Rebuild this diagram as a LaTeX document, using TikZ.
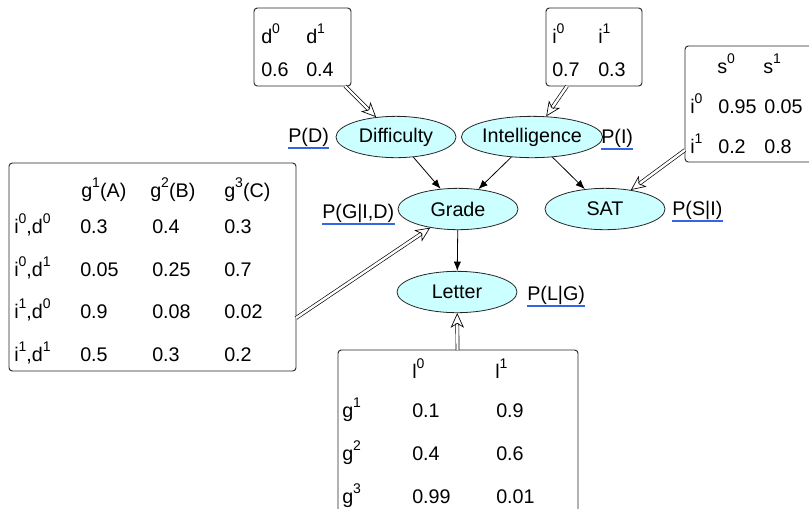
\documentclass[tikz,border=0pt]{standalone}
\usepackage{fontspec}
\setmainfont{Liberation Sans}
\usetikzlibrary{arrows.meta,positioning,shapes.geometric}
\definecolor{nodecyan}{HTML}{CCFFFF}
\definecolor{ulblue}{HTML}{3366E6}
\newcommand{\sups}[1]{\raisebox{.5em}{\fontsize{10.5}{11}\selectfont#1}}

\tikzset{
  var/.style={ellipse,draw=black!85,line width=.6pt,fill=nodecyan,
    minimum width=90pt,minimum height=31pt,inner sep=0pt},
  cpd/.style={draw=black!85,line width=.7pt,rounded corners=2.5pt},
  cell/.style={anchor=base west,inner sep=0pt},
  plabel/.style={anchor=base west,inner sep=0pt},
  uline/.style={ulblue,line width=1.3pt},
  edge/.style={line width=.6pt,-{Latex[length=7pt,width=5.5pt]}},
  link/.style={line width=.5pt,double,double distance=1.8pt,
    -{Stealth[open,length=11pt,width=10pt,inset=3pt]}},
}

\begin{document}
\begin{tikzpicture}[x=.75pt,y=-.75pt,font=\fontsize{14.8}{17}\selectfont]
\clip (0,0) rectangle (809,508);

% variables
\node[var] (diff) at (396,137) {Difficulty};
\node[var] (intel) at (532,137) {Intelligence};
\node[var] (grade) at (458,209) {Grade};
\node[var] (sat) at (605,209) {SAT};
\node[var] (letter) at (457,292) {Letter};

\draw[edge] (diff) -- (grade);
\draw[edge] (intel) -- (grade);
\draw[edge] (intel) -- (sat);
\draw[edge] (grade) -- (letter);

% factor names
\node[plabel] (pd) at (288,142) {P(D)};
\node[plabel] (pi) at (601,143) {P(I)};
\node[plabel] (pg) at (322,218) {P(G|I,D)};
\node[plabel] (ps) at (672,215) {P(S|I)};
\node[plabel] (pl) at (527,300) {P(L|G)};
\foreach \p in {pd,pi,pg,ps,pl}
  \draw[uline] ([yshift=-4.6pt]\p.base west) -- ([yshift=-4.6pt]\p.base east);

% P(D)
\draw[cpd] (254,8) rectangle (351,86);
\node[cell] (d0) at (261,43) {d\sups{0}};
\node[cell] (d1) at (306,43) {d\sups{1}};
\node[cell] (dv0) at (261,76) {0.6};
\node[cell] (dv1) at (306,76) {0.4};
\coordinate (dout) at (345,86);
\draw[link] (dout) -- (diff);

% P(I)
\draw[cpd] (546,8) rectangle (642,86);
\node[cell] (i0) at (552,43) {i\sups{0}};
\node[cell] (i1) at (598,43) {i\sups{1}};
\node[cell] (iv0) at (552,76) {0.7};
\node[cell] (iv1) at (598,76) {0.3};
\coordinate (iout) at (567,86);
\draw[link] (iout) -- (intel);

% P(S|I)
\draw[cpd] (685,46) rectangle (840,162);
\node[cell] (s0) at (717,73) {s\sups{0}};
\node[cell] (s1) at (763,73) {s\sups{1}};
\foreach \r/\y/\a/\b in {0/113/0.95/0.05,1/153/0.2/0.8}{
  \node[cell] (sr\r) at (690,\y) {i\sups{\r}};
  \node[cell] (sa\r) at (718,\y) {\a};
  \node[cell] (sb\r) at (764,\y) {\b};
}
\coordinate (sout) at (685,150);
\draw[link] (sout) -- (sat);

% P(G|I,D)
\draw[cpd] (9,163) rectangle (296,371);
\node[cell] (g1) at (81,197) {g\sups{1}(A)};
\node[cell] (g2) at (150,197) {g\sups{2}(B)};
\node[cell] (g3) at (224,197) {g\sups{3}(C)};
\foreach \r/\y/\i/\d/\a/\b/\c in {1/233/0/0/0.3/0.4/0.3,2/276/0/1/0.05/0.25/0.7,
    3/318/1/0/0.9/0.08/0.02,4/361/1/1/0.5/0.3/0.2}{
  \node[cell] (gr\r) at (14,\y) {i\sups{\i},d\sups{\d}};
  \node[cell] (ga\r) at (80,\y) {\a};
  \node[cell] (gb\r) at (152,\y) {\b};
  \node[cell] (gc\r) at (224,\y) {\c};
}
\coordinate (gout) at (296,318);
\draw[link] (gout) -- (grade);

% P(L|G)
\draw[cpd] (338,350) rectangle (578,540);
\node[cell] (l0) at (412,378) {l\sups{0}};
\node[cell] (l1) at (495,378) {l\sups{1}};
\foreach \r/\y/\a/\b in {1/417/0.1/0.9,2/460/0.4/0.6,3/503/0.99/0.01}{
  \node[cell] (lr\r) at (342,\y) {g\sups{\r}};
  \node[cell] (la\r) at (412,\y) {\a};
  \node[cell] (lb\r) at (496,\y) {\b};
}
\coordinate (lout) at (457.5,350);
\draw[link] (lout) -- (letter);
\end{tikzpicture}
\end{document}
